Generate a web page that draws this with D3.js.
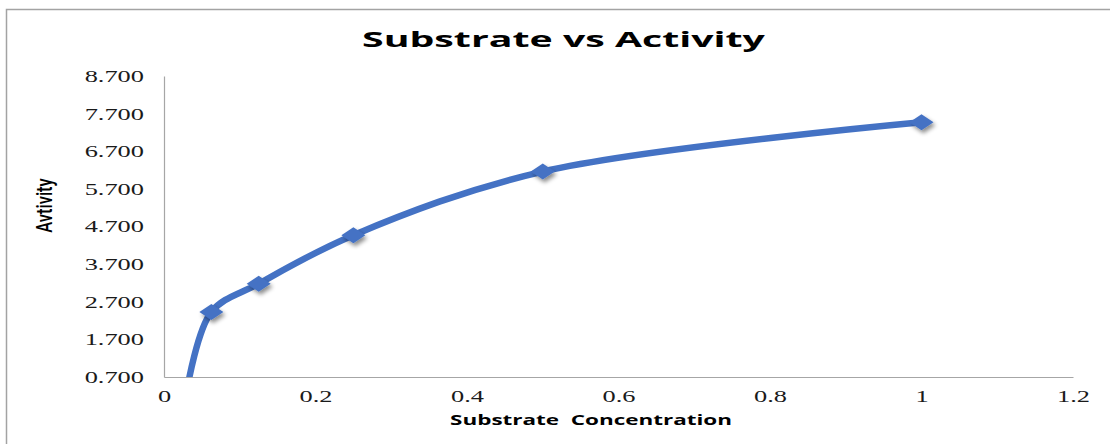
<!DOCTYPE html>
<html>
<head>
<meta charset="utf-8">
<script src="https://cdn.jsdelivr.net/npm/d3@7"></script>
<style>
  html, body { margin: 0; padding: 0; background: #fff; }
  svg { display: block; }
</style>
</head>
<body>
<svg id="chart" width="1110" height="444"></svg>
<script>
// Substrate concentration and measured activity
const substrate = [0.03125, 0.0625, 0.125, 0.25, 0.5, 1];
const activity = [0.45, 2.43, 3.18, 4.47, 6.16, 7.47];

// Axis ticks
const xTickValues = [0, 0.2, 0.4, 0.6, 0.8, 1, 1.2];
const xTickLabels = ["0", "0.2", "0.4", "0.6", "0.8", "1", "1.2"];
const yTickValues = [0.7, 1.7, 2.7, 3.7, 4.7, 5.7, 6.7, 7.7, 8.7];
const yTickLabels = ["0.700", "1.700", "2.700", "3.700", "4.700", "5.700", "6.700", "7.700", "8.700"];

const titleText = "Substrate vs Activity";
const xTitleText = "Substrate  Concentration";
const yTitleText = "Avtivity";

const svg = d3.select("#chart");
const plot = { left: 164, right: 1073, top: 76, bottom: 377 };
const blue = "#4472C4";
const stretch = 1.6; // horizontal stretch applied to the text

const x = d3.scaleLinear().domain([0, 1.2]).range([plot.left, plot.right]);
const y = d3.scaleLinear().domain([0.7, 8.7]).range([plot.bottom, plot.top]);

const defs = svg.append("defs");
defs.append("clipPath").attr("id", "plotClip")
  .append("rect")
  .attr("x", plot.left).attr("y", plot.top)
  .attr("width", plot.right - plot.left).attr("height", plot.bottom - plot.top);
const shadow = defs.append("filter").attr("id", "markerShadow")
  .attr("x", "-50%").attr("y", "-50%").attr("width", "200%").attr("height", "200%");
shadow.append("feDropShadow")
  .attr("dx", 2).attr("dy", 3).attr("stdDeviation", 2)
  .attr("flood-color", "#000").attr("flood-opacity", 0.45);

// Outer frame (top and left edges)
svg.append("path")
  .attr("d", "M6.5,444 V9.5 H1110")
  .attr("fill", "none").attr("stroke", "#a3a3a3").attr("stroke-width", 1.5);

// Fit a text element to a target width by stretching it horizontally
function fitWidth(sel, target) {
  const w = sel.node().getComputedTextLength();
  return target / w;
}

// Title
const title = svg.append("text")
  .attr("text-anchor", "middle")
  .attr("font-family", "'Open Sans', 'DejaVu Sans', sans-serif")
  .attr("font-weight", 700)
  .attr("font-size", 22)
  .attr("fill", "#000")
  .text(titleText);
title.attr("transform", `translate(563.5,47) scale(${fitWidth(title, 403)},1)`);

// Axes
const xAxis = d3.axisBottom(x).tickValues(xTickValues)
  .tickFormat((d, i) => xTickLabels[i]).tickSize(0).tickPadding(0);
const yAxis = d3.axisLeft(y).tickValues(yTickValues)
  .tickFormat((d, i) => yTickLabels[i]).tickSize(0).tickPadding(0);

const gx = svg.append("g").attr("transform", `translate(0,${plot.bottom})`).call(xAxis);
const gy = svg.append("g").attr("transform", `translate(${plot.left},0)`).call(yAxis);

[gx, gy].forEach(g => {
  g.select(".domain").attr("stroke", "#a6a6a6").attr("stroke-width", 1.2);
  g.selectAll("text")
    .attr("font-family", "'Liberation Serif', 'Times New Roman', serif")
    .attr("font-size", 16.5)
    .attr("fill", "#1a1a1a");
});

gx.selectAll(".tick text")
  .attr("y", 0).attr("dy", 0)
  .attr("transform", `translate(0,25) scale(${stretch},1)`);
gy.selectAll(".tick text")
  .attr("x", 0).attr("dy", "0.33em")
  .attr("transform", `translate(-20,0) scale(${stretch},1)`);

// Axis titles
const xTitle = svg.append("text")
  .attr("text-anchor", "middle")
  .attr("font-family", "'Open Sans', 'DejaVu Sans', sans-serif")
  .attr("font-weight", 700)
  .attr("font-size", 14.5)
  .attr("fill", "#000")
  .attr("xml:space", "preserve")
  .style("white-space", "pre")
  .text(xTitleText);
xTitle.attr("transform", `translate(591,425) scale(${fitWidth(xTitle, 282)},1)`);

svg.append("text")
  .attr("text-anchor", "middle")
  .attr("font-family", "Roboto, 'Liberation Sans', Arial, sans-serif")
  .attr("font-weight", 500)
  .attr("font-size", 16.5)
  .attr("fill", "#000")
  .attr("transform", "translate(52,205.5) scale(1.3,1) rotate(-90)")
  .text(yTitleText);

// Series line and markers
const data = substrate.map((s, i) => ({ s, a: activity[i] }));
const series = svg.append("g").attr("clip-path", "url(#plotClip)");

const line = d3.line()
  .x(d => x(d.s))
  .y(d => y(d.a))
  .curve(d3.curveCatmullRom.alpha(0.5));

series.append("path")
  .datum(data)
  .attr("d", line)
  .attr("fill", "none")
  .attr("stroke", blue)
  .attr("stroke-width", 6.5)
  .attr("stroke-linejoin", "round");

const diamond = "M0,-8 L12,0 L0,8 L-12,0 Z";
series.selectAll("path.marker")
  .data(data)
  .join("path")
  .attr("class", "marker")
  .attr("d", diamond)
  .attr("transform", d => `translate(${x(d.s)},${y(d.a)})`)
  .attr("fill", blue)
  .attr("filter", "url(#markerShadow)");
</script>
</body>
</html>
